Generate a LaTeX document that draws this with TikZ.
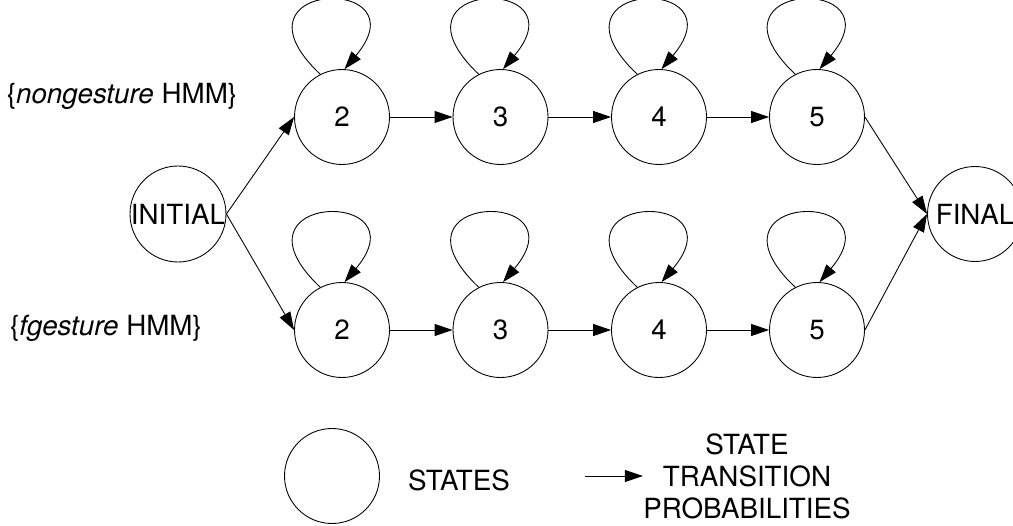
\documentclass[tikz,border=0pt]{standalone}
\usepackage{fontspec}
\setmainfont{TeX Gyre Heros}
\usetikzlibrary{arrows.meta}
\begin{document}
\begin{tikzpicture}[line width=0.5pt,>={Triangle[length=0.36cm,width=0.24cm]},
  state/.style={draw,circle,minimum size=1.9cm,inner sep=0pt},
  every node/.style={font=\fontsize{15.8}{18.2}\selectfont}]
\useasboundingbox (0,0) rectangle (20.26,10.5);
\node[state] (ini) at (3.56,6.22) {INITIAL};
\node[state] (fin) at (19.5,6.22) {FINAL};
\foreach \s/\x in {2/6.84,3/10.01,4/13.18,5/16.34}{
\node[state] (t\s) at (\x,8.16) {\s};
\node[state] (b\s) at (\x,3.9) {\s};
}
\foreach \s/\n in {2/3,3/4,4/5}{
\draw[->] (t\s) -- (t\n);
\draw[->] (b\s) -- (b\n);
}
% self loops
\foreach \r in {t,b}{
\foreach \s in {2,...,5}{
\draw[->] (\r\s.117) .. controls +(-2.0,1.9) and +(1.6,1.9) .. (\r\s.87);
}
}
\draw[->] (ini.east) -- (t2.west);
\draw[->] (ini.east) -- (b2.west);
\draw[->] (t5.east) -- (fin.west);
\draw[->] (b5.east) -- (fin.west);

\node (ng) at (2.44,8.58) {\{\textit{nongesture} HMM\}};
\node (fg) at (2.12,3.94) {\{\textit{fgesture} HMM\}};

% legend
\node[state] (leg) at (6.64,0.98) {};
\node (stlbl) at (9.18,0.9) {STATES};
\node[align=center,inner sep=0pt] (trans) at (14.94,0.98) {STATE\\TRANSITION\\PROBABILITIES};
\coordinate (la) at (11.7,0.98);
\draw[->] (la) -- (trans.west);
\end{tikzpicture}
\end{document}
